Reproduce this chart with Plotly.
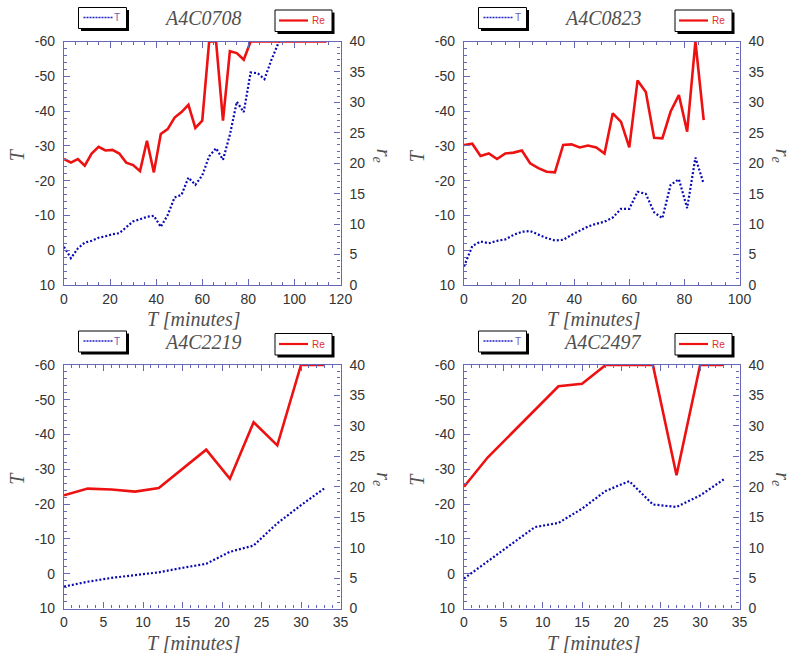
import plotly.graph_objects as go

W, H = 793, 653

# ---------------- data ----------------
titles = ["A4C0708", "A4C0823", "A4C2219", "A4C2497"]

# A4C0708
t1_min = [0, 3, 6, 9, 12, 15, 18, 21, 24, 27, 30, 33, 36, 39, 42, 45, 48, 51, 54, 57,
          60, 63, 66, 69, 72, 75, 78, 81, 84, 87, 90, 93, 96]
t1_T = [-1.0, 2.3, -0.5, -2.2, -2.7, -3.6, -4.0, -4.6, -4.9, -6.5, -8.3, -8.9, -9.6, -9.9,
        -6.7, -10.1, -15.2, -15.9, -20.9, -18.8, -21.5, -27.0, -29.3, -26.0, -33.2, -42.7,
        -39.7, -51.1, -50.9, -49.2, -54.7, -59.5, -63.0]
r1_min = [0, 3, 6, 9, 12, 15, 18, 21, 24, 27, 30, 33, 36, 39, 42, 45, 48, 51, 54, 57,
          60, 63, 66, 69, 72, 75, 78, 81, 84, 87, 90, 93, 96, 99, 102, 105, 108, 111, 114]
r1_re = [20.7, 20.1, 20.7, 19.6, 21.6, 22.7, 22.1, 22.2, 21.6, 20.1, 19.7, 18.7, 23.7, 18.5,
         24.8, 25.6, 27.5, 28.4, 29.6, 25.8, 27.0, 40, 40, 27.0, 38.4, 38.1, 37.0, 40,
         40, 40, 40, 40, 40, 40, 40, 40, 40, 40, 40]

# A4C0823
t2_min = [0, 3, 6, 9, 12, 15, 18, 21, 24, 27, 30, 33, 36, 39, 42, 45, 48, 51, 54, 57,
          60, 63, 66, 69, 72, 75, 78, 81, 84, 87]
t2_T = [4.7, -1.2, -2.5, -2.0, -2.7, -3.1, -4.4, -5.3, -5.5, -4.4, -3.5, -2.8, -3.0, -4.4,
        -5.5, -6.8, -7.6, -8.2, -9.4, -11.9, -11.9, -16.8, -16.2, -10.9, -9.2, -18.8, -20.4,
        -12.1, -26.6, -19.1]
r2_re = [23.0, 23.2, 21.2, 21.6, 20.7, 21.6, 21.75, 22.1, 20.0, 19.2, 18.6, 18.5, 23.0, 23.1,
         22.6, 22.9, 22.6, 21.6, 28.2, 26.8, 22.6, 33.6, 31.7, 24.2, 24.1, 28.5, 31.2, 25.2,
         40, 27.1]

# A4C2219
t3_min = [0, 3, 6, 9, 12, 15, 18, 21, 24, 27, 30, 33]
t3_T = [3.7, 2.3, 1.2, 0.5, -0.4, -1.7, -2.85, -6.3, -8.1, -14.5, -19.7, -24.6]
r3_re = [18.6, 19.7, 19.55, 19.2, 19.8, 23.0, 26.1, 21.3, 30.6, 26.8, 40, 40]

# A4C2497
t4_min = [0, 3, 6, 9, 12, 15, 18, 21, 24, 27, 30, 33]
t4_T = [1.4, -3.5, -8.5, -13.4, -14.6, -18.7, -23.8, -26.6, -19.9, -19.2, -22.5, -27.1]
r4_re = [20.0, 24.8, 28.7, 32.6, 36.5, 36.9, 40, 40, 40, 21.9, 40, 40]

# tick labels (left axis uses plain hyphen minus, as in the original)
T_tickvals = [-60, -50, -40, -30, -20, -10, 0, 10]
T_ticktext = ["-60", "-50", "-40", "-30", "-20", "-10", "0", "10"]

x_ranges = [[0, 120], [0, 100], [0, 35], [0, 35]]
x_dticks = [20, 20, 5, 5]
x_minor = [5, 5, 1, 1]

panels = [
    (t1_min, t1_T, r1_min, r1_re),
    (t2_min, t2_T, t2_min, r2_re),
    (t3_min, t3_T, t3_min, r3_re),
    (t4_min, t4_T, t4_min, r4_re),
]

# ---------------- layout geometry (pixels) ----------------
boxes = [  # left, right, top, bottom
    (64, 340.5, 41.5, 285),
    (464, 739.5, 41.5, 285),
    (64, 340.5, 365, 608.5),
    (464, 739.5, 365, 608.5),
]


def fx(p):
    return p / W


def fy(p):
    return 1 - p / H


AXC = "#6767b8"
TICKF = dict(family="Liberation Sans, Arial, sans-serif", size=14, color="#333333")
SERIF = "Liberation Serif, Times New Roman, serif"
BLUE = "#0a0ab4"
RED = "#ee1111"

fig = go.Figure()
layout = dict(
    width=W, height=H, margin=dict(l=0, r=0, t=0, b=0, pad=0),
    paper_bgcolor="white", plot_bgcolor="white", showlegend=False,
)
annotations = []
shapes = []

for k in range(4):
    xs, ts, xr, rs = panels[k]
    xa = "x" if k == 0 else f"x{k + 1}"
    yl = "y" if k == 0 else f"y{2 * k + 1}"
    yr = f"y{2 * k + 2}"
    xname = "xaxis" if k == 0 else f"xaxis{k + 1}"
    ylname = "yaxis" if k == 0 else f"yaxis{2 * k + 1}"
    yrname = f"yaxis{2 * k + 2}"
    L, R, T, B = boxes[k]

    fig.add_trace(go.Scatter(x=xs, y=ts, mode="lines", xaxis=xa, yaxis=yl,
                             line=dict(color=BLUE, width=2.2, dash="2px,2px"), name="T"))
    fig.add_trace(go.Scatter(x=xr, y=rs, mode="lines", xaxis=xa, yaxis=yr,
                             line=dict(color=RED, width=2.6), name="Re"))

    layout[xname] = dict(
        domain=[fx(L), fx(R)], anchor=yl, range=x_ranges[k], dtick=x_dticks[k], tick0=0,
        showline=True, linecolor=AXC, linewidth=1.2, mirror="ticks",
        ticks="inside", ticklen=6, tickcolor=AXC, tickwidth=1,
        minor=dict(dtick=x_minor[k], ticks="inside", ticklen=3, tickcolor=AXC, tickwidth=1),
        showgrid=False, zeroline=False, tickfont=TICKF, ticklabelstandoff=1,
        automargin=False,
    )
    layout[ylname] = dict(
        domain=[fy(B), fy(T)], anchor=xa, range=[10, -60],
        tickmode="array", tickvals=T_tickvals, ticktext=T_ticktext,
        showline=True, linecolor=AXC, linewidth=1.2, side="left",
        ticks="inside", ticklen=6, tickcolor=AXC, tickwidth=1,
        minor=dict(tickmode="linear", tick0=0, dtick=2, ticks="inside", ticklen=3,
                   tickcolor=AXC, tickwidth=1),
        showgrid=False, zeroline=False, tickfont=TICKF, ticklabelstandoff=5,
        automargin=False,
    )
    layout[yrname] = dict(
        overlaying=yl, anchor=xa, side="right", range=[0, 40], dtick=5, tick0=0,
        showline=True, linecolor=AXC, linewidth=1.2,
        ticks="inside", ticklen=6, tickcolor=AXC, tickwidth=1,
        minor=dict(dtick=1, ticks="inside", ticklen=3, tickcolor=AXC, tickwidth=1),
        showgrid=False, zeroline=False, tickfont=TICKF, ticklabelstandoff=5,
        automargin=False,
    )

    cx = (L + R) / 2
    top = T - 41.5  # offset of row
    # title
    annotations.append(dict(text=f"<i>{titles[k]}</i>", x=fx(cx + 1), y=fy(top + 18),
                            xref="paper", yref="paper", showarrow=False,
                            font=dict(family=SERIF, size=20, color="#505050"),
                            xanchor="center", yanchor="middle"))
    # x title
    annotations.append(dict(text="<i>T [minutes]</i>", x=fx(cx - 8), y=fy(B + 34),
                            xref="paper", yref="paper", showarrow=False,
                            font=dict(family=SERIF, size=20, color="#505050"),
                            xanchor="center", yanchor="middle"))
    # left y title
    annotations.append(dict(text="<i>T</i>", x=fx(L - 47), y=fy((T + B) / 2 - 8),
                            xref="paper", yref="paper", showarrow=False, textangle=-90,
                            font=dict(family=SERIF, size=20, color="#505050"),
                            xanchor="center", yanchor="middle"))
    # right y title
    annotations.append(dict(text="<i>r</i><sub><i>e</i></sub>", x=fx(R + 42),
                            y=fy((T + B) / 2 - 8),
                            xref="paper", yref="paper", showarrow=False, textangle=90,
                            font=dict(family=SERIF, size=20, color="#505050"),
                            xanchor="center", yanchor="middle"))

    # legend boxes (decoration)
    bl, br, bt, bb = L + 14.5, L + 62.5, top + 7.5, top + 28.5
    shapes.append(dict(type="rect", xref="paper", yref="paper",
                       x0=fx(bl + 2.5), x1=fx(br + 2.5), y0=fy(bb + 2.5), y1=fy(bt + 2.5),
                       fillcolor="black", line=dict(width=0)))
    shapes.append(dict(type="rect", xref="paper", yref="paper",
                       x0=fx(bl), x1=fx(br), y0=fy(bb), y1=fy(bt),
                       fillcolor="white", line=dict(color="black", width=1)))
    shapes.append(dict(type="line", xref="paper", yref="paper",
                       x0=fx(bl + 5), x1=fx(bl + 34), y0=fy(top + 17.5), y1=fy(top + 17.5),
                       line=dict(color="#2020c8", width=1.3, dash="2px,1px")))
    annotations.append(dict(text="T", x=fx(bl + 39), y=fy(top + 17.5),
                            xref="paper", yref="paper", showarrow=False,
                            font=dict(family="Liberation Sans, Arial, sans-serif", size=10,
                                      color="#6b5fb0"),
                            xanchor="center", yanchor="middle"))

    rl, rr, rt, rb = L + 211, L + 268, top + 10, top + 31.5
    shapes.append(dict(type="rect", xref="paper", yref="paper",
                       x0=fx(rl + 2.5), x1=fx(rr + 2.5), y0=fy(rb + 2.5), y1=fy(rt + 2.5),
                       fillcolor="black", line=dict(width=0)))
    shapes.append(dict(type="rect", xref="paper", yref="paper",
                       x0=fx(rl), x1=fx(rr), y0=fy(rb), y1=fy(rt),
                       fillcolor="white", line=dict(color="black", width=1)))
    shapes.append(dict(type="line", xref="paper", yref="paper",
                       x0=fx(rl + 4), x1=fx(rl + 33), y0=fy(top + 20.5), y1=fy(top + 20.5),
                       line=dict(color=RED, width=2.2)))
    annotations.append(dict(text="Re", x=fx(rl + 43), y=fy(top + 20.5),
                            xref="paper", yref="paper", showarrow=False,
                            font=dict(family="Liberation Sans, Arial, sans-serif", size=10,
                                      color="#e03030"),
                            xanchor="center", yanchor="middle"))

layout["annotations"] = annotations
layout["shapes"] = shapes
fig.update_layout(**layout)

fig.write_html("out.html",
               config={"displayModeBar": False},
               post_script="document.body.style.margin='0px';"
                           "document.body.style.overflow='hidden';")
